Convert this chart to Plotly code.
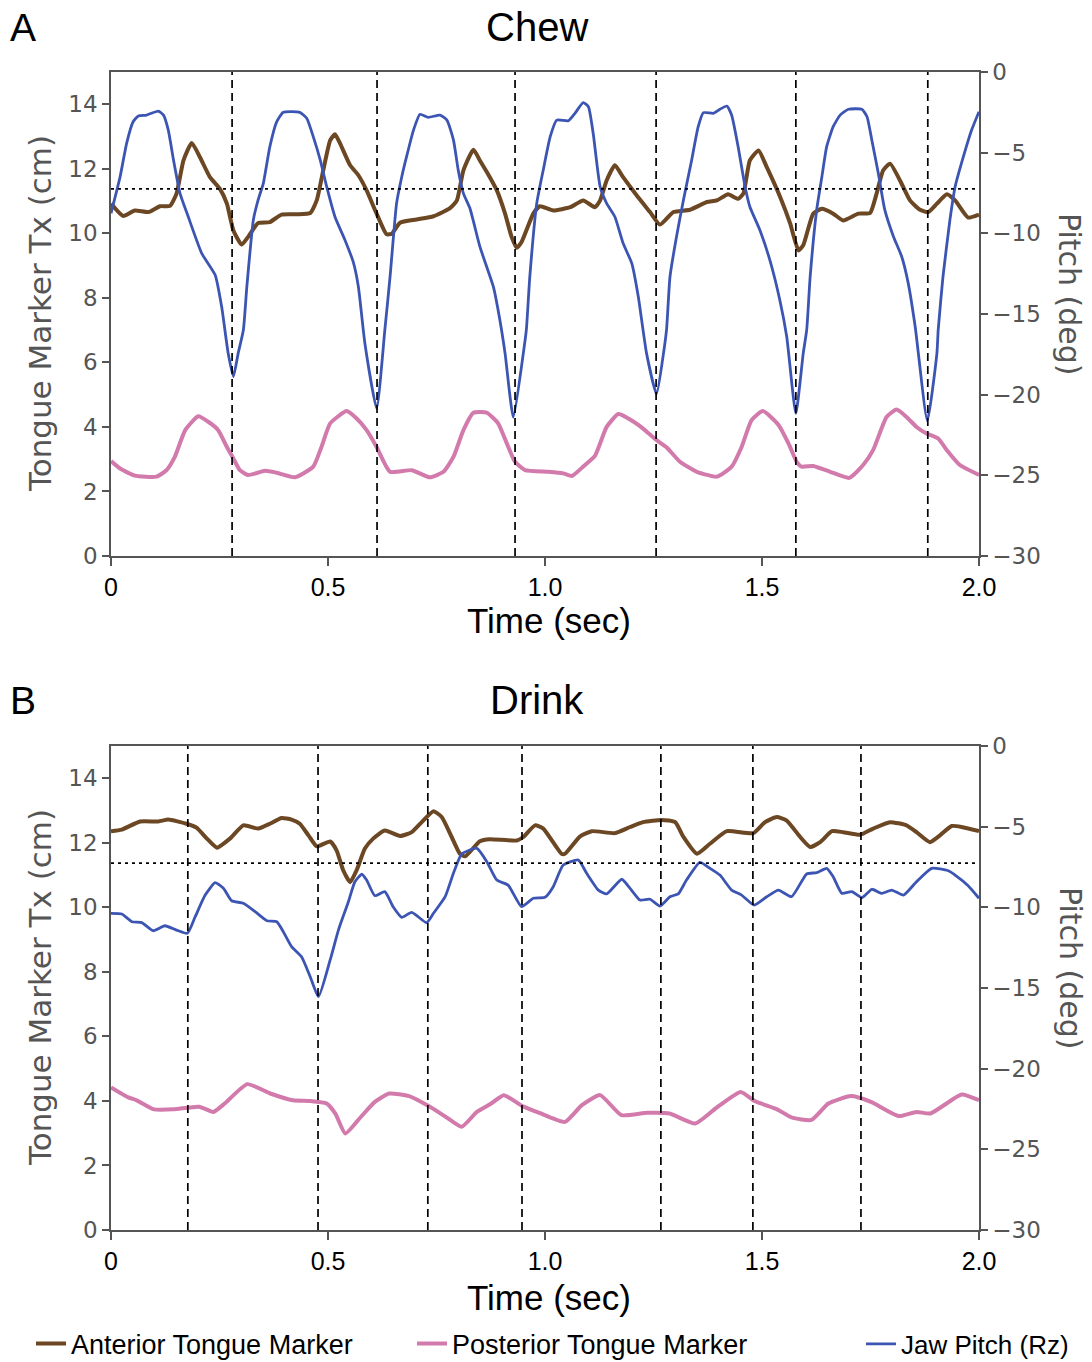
import plotly.graph_objects as go

# ---------------- DATA ----------------
# Panel A: Chew
chew_ant_t = [0.000, 0.028, 0.055, 0.086, 0.113, 0.136, 0.151, 0.167, 0.186, 0.205, 0.228, 0.251, 0.267, 0.282,
              0.301, 0.316, 0.339, 0.366, 0.393, 0.428, 0.459, 0.474, 0.489, 0.505, 0.516, 0.528, 0.551, 0.570,
              0.589, 0.612, 0.635, 0.647, 0.666, 0.704, 0.743, 0.781, 0.797, 0.812, 0.835, 0.850, 0.866, 0.889,
              0.908, 0.923, 0.935, 0.946, 0.973, 0.988, 1.019, 1.058, 1.088, 1.115, 1.127, 1.142, 1.161, 1.180,
              1.211, 1.242, 1.265, 1.296, 1.334, 1.373, 1.396, 1.422, 1.445, 1.457, 1.472, 1.492, 1.511, 1.542,
              1.565, 1.584, 1.595, 1.618, 1.638, 1.664, 1.687, 1.722, 1.749, 1.764, 1.779, 1.795, 1.818, 1.841,
              1.864, 1.883, 1.903, 1.926, 1.945, 1.975, 2.000]
chew_ant_cm = [10.92, 10.54, 10.71, 10.66, 10.84, 10.85, 11.23, 12.26, 12.80, 12.36, 11.74, 11.38, 10.92, 10.09,
               9.65, 9.89, 10.32, 10.35, 10.58, 10.59, 10.63, 11.02, 11.95, 12.88, 13.07, 12.78, 12.11, 11.80,
               11.33, 10.61, 9.97, 9.99, 10.33, 10.43, 10.53, 10.78, 11.02, 11.95, 12.59, 12.26, 11.90, 11.33,
               10.61, 9.89, 9.55, 9.73, 10.61, 10.84, 10.71, 10.81, 11.02, 10.81, 11.02, 11.64, 12.11, 11.74,
               11.18, 10.66, 10.27, 10.66, 10.73, 10.97, 11.02, 11.21, 11.07, 11.23, 12.26, 12.57, 12.05, 11.12,
               10.30, 9.47, 9.63, 10.61, 10.76, 10.61, 10.40, 10.61, 10.63, 11.23, 11.95, 12.16, 11.64, 11.02,
               10.73, 10.66, 10.92, 11.21, 11.02, 10.49, 10.58]

chew_post_t = [0.000, 0.021, 0.055, 0.105, 0.128, 0.147, 0.171, 0.201, 0.224, 0.247, 0.267, 0.282, 0.297, 0.316,
               0.355, 0.382, 0.424, 0.466, 0.485, 0.505, 0.543, 0.566, 0.589, 0.612, 0.643, 0.693, 0.735, 0.766,
               0.789, 0.812, 0.835, 0.866, 0.892, 0.912, 0.931, 0.954, 1.008, 1.042, 1.062, 1.088, 1.115, 1.142,
               1.169, 1.196, 1.226, 1.257, 1.280, 1.311, 1.350, 1.396, 1.430, 1.453, 1.476, 1.502, 1.538, 1.561,
               1.580, 1.591, 1.618, 1.657, 1.701, 1.733, 1.756, 1.787, 1.810, 1.833, 1.856, 1.879, 1.906, 1.926,
               1.956, 2.000]
chew_post_cm = [2.94, 2.71, 2.49, 2.46, 2.66, 3.07, 3.90, 4.33, 4.16, 3.90, 3.38, 3.02, 2.66, 2.51,
                2.64, 2.58, 2.44, 2.77, 3.38, 4.11, 4.49, 4.26, 3.90, 3.38, 2.61, 2.66, 2.44, 2.61,
                3.07, 3.90, 4.44, 4.44, 4.11, 3.49, 2.92, 2.66, 2.61, 2.56, 2.48, 2.77, 3.10, 4.00,
                4.40, 4.23, 3.95, 3.59, 3.37, 2.92, 2.61, 2.46, 2.77, 3.38, 4.21, 4.49, 4.06, 3.49,
                2.92, 2.77, 2.79, 2.61, 2.42, 2.82, 3.28, 4.31, 4.54, 4.31, 4.00, 3.80, 3.64, 3.28,
                2.82, 2.51]

chew_jaw_t = [0.000, 0.021, 0.036, 0.051, 0.063, 0.082, 0.109, 0.121, 0.132, 0.144, 0.159, 0.178, 0.209, 0.240,
              0.255, 0.270, 0.282, 0.293, 0.305, 0.313, 0.328, 0.339, 0.351, 0.366, 0.382, 0.397, 0.435, 0.451,
              0.466, 0.482, 0.497, 0.516, 0.539, 0.558, 0.570, 0.585, 0.612, 0.631, 0.643, 0.658, 0.670, 0.681,
              0.697, 0.712, 0.731, 0.758, 0.774, 0.789, 0.800, 0.812, 0.827, 0.850, 0.881, 0.896, 0.908, 0.927,
              0.950, 0.957, 0.965, 0.981, 0.996, 1.012, 1.027, 1.054, 1.069, 1.088, 1.100, 1.111, 1.127, 1.142,
              1.161, 1.180, 1.200, 1.215, 1.234, 1.257, 1.273, 1.280, 1.288, 1.303, 1.319, 1.338, 1.353, 1.365,
              1.388, 1.403, 1.419, 1.430, 1.445, 1.461, 1.472, 1.495, 1.518, 1.541, 1.557, 1.578, 1.595, 1.603,
              1.611, 1.626, 1.638, 1.649, 1.664, 1.680, 1.699, 1.730, 1.742, 1.753, 1.768, 1.783, 1.803, 1.822,
              1.837, 1.853, 1.881, 1.903, 1.906, 1.917, 1.933, 1.945, 1.964, 1.983, 2.000]
chew_jaw_deg = [-8.76, -6.49, -4.42, -3.08, -2.73, -2.67, -2.42, -2.67, -3.60, -5.45, -7.52, -8.97, -11.24, -12.58,
                -14.55, -17.44, -18.88, -17.44, -15.99, -13.31, -9.17, -7.93, -6.90, -4.63, -3.08, -2.50, -2.50, -2.87,
                -4.01, -5.45, -7.11, -8.97, -10.41, -11.76, -13.31, -16.82, -20.85, -15.99, -12.69, -8.14, -6.49, -5.25,
                -3.60, -2.62, -2.81, -2.67, -2.98, -4.21, -6.07, -7.52, -8.45, -10.83, -13.31, -15.37, -17.44, -21.40,
                -17.44, -15.99, -12.69, -8.14, -6.07, -4.01, -2.98, -3.02, -2.56, -1.90, -2.15, -3.80, -7.11, -8.14,
                -8.97, -10.62, -11.86, -13.93, -17.44, -19.96, -17.44, -15.99, -12.69, -10.21, -7.93, -5.45, -3.39, -2.52,
                -2.56, -2.31, -2.11, -2.67, -4.63, -7.11, -8.35, -9.79, -11.65, -14.13, -16.41, -21.16, -17.44, -15.99,
                -12.69, -8.55, -6.49, -4.63, -3.39, -2.67, -2.31, -2.31, -2.77, -4.21, -6.28, -8.55, -10.21, -11.45,
                -13.10, -15.79, -21.61, -17.44, -15.99, -12.69, -9.17, -7.11, -5.25, -3.60, -2.46]

chew_cycle_t = [0.279, 0.613, 0.931, 1.256, 1.578, 1.882]
chew_threshold_cm = 11.38

# Panel B: Drink
drink_ant_t = [0.000, 0.025, 0.067, 0.109, 0.132, 0.174, 0.197, 0.221, 0.244, 0.274, 0.305, 0.339, 0.366, 0.393,
               0.416, 0.435, 0.455, 0.474, 0.505, 0.520, 0.535, 0.551, 0.566, 0.585, 0.604, 0.631, 0.666, 0.693,
               0.716, 0.743, 0.762, 0.785, 0.804, 0.816, 0.850, 0.873, 0.935, 0.950, 0.977, 0.996, 1.038, 1.046,
               1.081, 1.108, 1.161, 1.196, 1.226, 1.269, 1.300, 1.319, 1.350, 1.380, 1.419, 1.480, 1.507, 1.534,
               1.557, 1.588, 1.611, 1.634, 1.661, 1.687, 1.726, 1.756, 1.795, 1.833, 1.856, 1.887, 1.910, 1.937,
               1.960, 2.000]
drink_ant_cm = [12.36, 12.41, 12.66, 12.66, 12.72, 12.59, 12.47, 12.13, 11.85, 12.13, 12.54, 12.44, 12.59, 12.77,
                12.72, 12.59, 12.23, 11.89, 12.04, 11.76, 11.15, 10.78, 11.15, 11.82, 12.13, 12.38, 12.21, 12.33,
                12.64, 12.98, 12.80, 12.18, 11.66, 11.58, 12.05, 12.11, 12.07, 12.18, 12.54, 12.44, 11.66, 11.66,
                12.20, 12.36, 12.30, 12.49, 12.64, 12.71, 12.64, 12.18, 11.66, 11.97, 12.36, 12.30, 12.64, 12.80,
                12.69, 12.18, 11.87, 12.02, 12.36, 12.33, 12.25, 12.44, 12.64, 12.54, 12.33, 12.02, 12.23, 12.52,
                12.49, 12.36]

drink_post_t = [0.000, 0.040, 0.059, 0.099, 0.144, 0.203, 0.236, 0.262, 0.314, 0.367, 0.419, 0.458, 0.497, 0.517,
                0.540, 0.576, 0.608, 0.641, 0.687, 0.732, 0.771, 0.808, 0.843, 0.876, 0.905, 0.948, 0.987, 1.046,
                1.085, 1.127, 1.176, 1.235, 1.287, 1.346, 1.398, 1.451, 1.483, 1.535, 1.568, 1.614, 1.653, 1.705,
                1.751, 1.816, 1.856, 1.888, 1.960, 2.000]
drink_post_cm = [4.42, 4.11, 4.02, 3.74, 3.74, 3.82, 3.66, 3.92, 4.52, 4.23, 4.02, 4.00, 3.92, 3.61,
                 2.99, 3.51, 3.97, 4.23, 4.15, 3.84, 3.51, 3.20, 3.66, 3.92, 4.18, 3.84, 3.63, 3.35,
                 3.87, 4.18, 3.56, 3.63, 3.61, 3.30, 3.82, 4.28, 4.00, 3.74, 3.49, 3.41, 3.92, 4.15,
                 3.97, 3.53, 3.66, 3.61, 4.20, 4.02]

drink_jaw_t = [0.000, 0.025, 0.048, 0.071, 0.097, 0.124, 0.151, 0.176, 0.194, 0.217, 0.240, 0.259, 0.278, 0.305,
               0.332, 0.359, 0.382, 0.397, 0.416, 0.439, 0.459, 0.478, 0.505, 0.524, 0.547, 0.562, 0.578, 0.589,
               0.608, 0.631, 0.650, 0.670, 0.693, 0.727, 0.743, 0.770, 0.789, 0.808, 0.843, 0.866, 0.889, 0.915,
               0.946, 0.973, 1.000, 1.019, 1.042, 1.077, 1.096, 1.123, 1.142, 1.177, 1.196, 1.219, 1.242, 1.265,
               1.288, 1.307, 1.326, 1.357, 1.380, 1.403, 1.430, 1.453, 1.482, 1.511, 1.538, 1.568, 1.603, 1.626,
               1.649, 1.664, 1.684, 1.707, 1.730, 1.753, 1.776, 1.799, 1.826, 1.856, 1.891, 1.929, 1.945, 1.975,
               2.000]
drink_jaw_deg = [-10.37, -10.41, -10.89, -10.95, -11.45, -11.14, -11.41, -11.61, -10.58, -9.24, -8.47, -8.82, -9.59, -9.75,
                 -10.27, -10.83, -10.89, -11.51, -12.44, -13.06, -14.30, -15.54, -13.26, -11.41, -9.65, -8.41, -7.95, -8.31,
                 -9.28, -9.03, -9.96, -10.62, -10.31, -10.95, -10.37, -9.34, -7.89, -6.69, -6.34, -7.17, -8.31, -8.62,
                 -9.96, -9.44, -9.38, -8.72, -7.38, -7.07, -7.89, -8.93, -9.17, -8.26, -8.82, -9.55, -9.50, -9.92,
                 -9.34, -9.17, -8.31, -7.21, -7.58, -8.00, -8.93, -9.24, -9.86, -9.34, -8.93, -9.34, -7.93, -7.85,
                 -7.58, -8.10, -9.13, -9.03, -9.40, -8.88, -9.13, -8.93, -9.24, -8.41, -7.58, -7.73, -8.00, -8.66,
                 -9.44]

drink_cycle_t = [0.177, 0.477, 0.730, 0.947, 1.267, 1.479, 1.728]
drink_threshold_cm = 11.37

series_names = ["Anterior Tongue Marker", "Posterior Tongue Marker", "Jaw Pitch (Rz)"]
x_ticks = [0, 0.5, 1.0, 1.5, 2.0]
x_ticklabels = ["0", "0.5", "1.0", "1.5", "2.0"]
cm_ticks = [0, 2, 4, 6, 8, 10, 12, 14]
deg_ticks = [0, -5, -10, -15, -20, -25, -30]
panel_titles = ["Chew", "Drink"]
panel_letters = ["A", "B"]

# ---------------- STYLE ----------------
C_ANT = "#6c4723"
C_POST = "#d27aab"
C_JAW = "#3c55b3"
AX_GRAY = "#555555"

fig = go.Figure()

def add_line(t, v, color, width, name, xa, ya, legend, show):
    fig.add_trace(go.Scatter(x=t, y=v, mode="lines", name=name,
                             line=dict(color=color, width=width, shape="spline", smoothing=0.5),
                             xaxis=xa, yaxis=ya, legend=legend, showlegend=show,
                             hoverinfo="skip"))

add_line(chew_ant_t, chew_ant_cm, C_ANT, 4, series_names[0], "x", "y", "legend", True)
add_line(chew_post_t, chew_post_cm, C_POST, 4, series_names[1], "x", "y", "legend2", True)
add_line(chew_jaw_t, chew_jaw_deg, C_JAW, 2.8, series_names[2], "x", "y2", "legend3", True)
add_line(drink_ant_t, drink_ant_cm, C_ANT, 4, series_names[0], "x2", "y3", "legend", False)
add_line(drink_post_t, drink_post_cm, C_POST, 4, series_names[1], "x2", "y3", "legend2", False)
add_line(drink_jaw_t, drink_jaw_deg, C_JAW, 2.8, series_names[2], "x2", "y4", "legend3", False)

shapes = []
for xr, yr, cycles, thr in [("x", "y", chew_cycle_t, chew_threshold_cm),
                            ("x2", "y3", drink_cycle_t, drink_threshold_cm)]:
    for c in cycles:
        shapes.append(dict(type="line", xref=xr, yref=yr + " domain", x0=c, x1=c, y0=0, y1=1,
                           layer="above", line=dict(color="black", width=1.7, dash="8px,5px")))
    shapes.append(dict(type="line", xref=xr + " domain", yref=yr, x0=0, x1=1, y0=thr, y1=thr,
                       layer="above", line=dict(color="black", width=1.7, dash="3px,4px")))

W, H = 1092, 1362
L, R, T, B = 111, 113, 72, 132
PW, PH = W - L - R, H - T - B

def px(xp):
    return (xp - L) / PW

def py(yp):
    return (H - B - yp) / PH

top_dom = [py(556), 1.0]
bot_dom = [0.0, py(746)]

def xaxis_style(anchor):
    return dict(anchor=anchor, domain=[0, 1], range=[0, 2], tickvals=x_ticks, ticktext=x_ticklabels,
                showgrid=False, zeroline=False, showline=True, linecolor=AX_GRAY, linewidth=1.5,
                mirror=True, ticks="outside", ticklen=8, tickwidth=2, tickcolor=AX_GRAY,
                tickfont=dict(family="Liberation Sans, Arial, sans-serif", size=25, color="black"))

def ylaxis_style(anchor, dom):
    return dict(anchor=anchor, domain=dom, range=[0, 15], tickvals=cm_ticks,
                showgrid=False, zeroline=False, showline=True, linecolor=AX_GRAY, linewidth=1.5,
                ticks="outside", ticklen=7, tickwidth=2, tickcolor=AX_GRAY,
                tickfont=dict(family="DejaVu Sans, Verdana, sans-serif", size=23, color=AX_GRAY))

def yraxis_style(anchor, over):
    return dict(anchor=anchor, overlaying=over, side="right", range=[-30, 0], tickvals=deg_ticks,
                showgrid=False, zeroline=False, showline=True, linecolor=AX_GRAY, linewidth=1.5,
                ticks="outside", ticklen=7, tickwidth=2, tickcolor=AX_GRAY,
                tickfont=dict(family="DejaVu Sans, Verdana, sans-serif", size=23, color=AX_GRAY))

ann = []
for i, (ttl, let, ytitle, ymid, ytime) in enumerate([
        (panel_titles[0], panel_letters[0], 27, 314, 620),
        (panel_titles[1], panel_letters[1], 700, 988, 1297)]):
    ann.append(dict(text=ttl, x=px(537), y=py(ytitle), xref="paper", yref="paper", showarrow=False,
                    xanchor="center", yanchor="middle",
                    font=dict(family="Liberation Sans, Arial, sans-serif", size=40, color="black")))
    ann.append(dict(text=let, x=px(23), y=py(ytitle), xref="paper", yref="paper", showarrow=False,
                    xanchor="center", yanchor="middle",
                    font=dict(family="Liberation Sans, Arial, sans-serif", size=39, color="black")))
    ann.append(dict(text="Tongue Marker Tx (cm)", x=px(40), y=py(ymid), xref="paper", yref="paper",
                    showarrow=False, textangle=-90, xanchor="center", yanchor="middle",
                    font=dict(family="DejaVu Sans, Verdana, sans-serif", size=31, color=AX_GRAY)))
    ann.append(dict(text="Pitch (deg)", x=px(1070), y=py(ymid - 20), xref="paper", yref="paper",
                    showarrow=False, textangle=90, xanchor="center", yanchor="middle",
                    font=dict(family="DejaVu Sans, Verdana, sans-serif", size=30, color=AX_GRAY)))
    ann.append(dict(text="Time (sec)", x=px(549), y=py(ytime), xref="paper", yref="paper",
                    showarrow=False, xanchor="center", yanchor="middle",
                    font=dict(family="Liberation Sans, Arial, sans-serif", size=35, color="black")))

leg_font = dict(family="Liberation Sans, Arial, sans-serif", size=27, color="black")
def leg(xp, size=27):
    return dict(orientation="h", x=xp / W, y=1 - 1344 / H, xref="container", yref="container",
                xanchor="left", yanchor="middle",
                font=dict(family="Liberation Sans, Arial, sans-serif", size=size, color="black"),
                bgcolor="rgba(0,0,0,0)", itemwidth=30, tracegroupgap=0)

fig.update_layout(
    width=W, height=H, margin=dict(l=L, r=R, t=T, b=B, autoexpand=False),
    plot_bgcolor="white", paper_bgcolor="white",
    xaxis=xaxis_style("y"), yaxis=ylaxis_style("x", top_dom), yaxis2=yraxis_style("x", "y"),
    xaxis2=xaxis_style("y3"), yaxis3=ylaxis_style("x2", bot_dom), yaxis4=yraxis_style("x2", "y3"),
    shapes=shapes, annotations=ann,
    legend=leg(31), legend2=leg(412), legend3=leg(861, 26),
)

fig.write_html("out.html", config={"displayModeBar": False},
               post_script="document.body.style.margin='0';document.body.style.overflow='hidden';")
